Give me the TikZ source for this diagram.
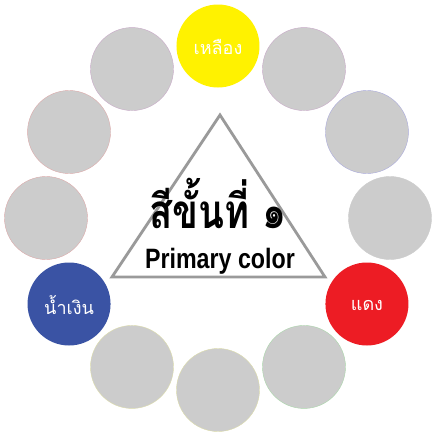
\documentclass[tikz,border=0pt]{standalone}
\usepackage{fontspec}
\newfontfamily\thaifont[Script=Thai]{Loma}
\newfontfamily\latinbold{Liberation Sans}
\definecolor{cgray}{HTML}{CCCCCC}
\definecolor{cyellow}{HTML}{FFF200}
\definecolor{cred}{HTML}{ED1C24}
\definecolor{cblue}{HTML}{3A53A4}
\definecolor{tri}{HTML}{9A9A9A}
\definecolor{opurple}{RGB}{200,170,200}
\definecolor{oblue}{RGB}{170,170,220}
\definecolor{ogreen}{RGB}{170,215,170}
\definecolor{oyellow}{RGB}{220,220,170}
\definecolor{opink}{RGB}{220,170,170}
\tikzset{
  dot/.style={circle, minimum size=83pt, inner sep=0pt, fill=cgray, draw=#1, line width=0.4pt},
  lbl/.style={text=white, font=\thaifont\fontsize{18}{18}\selectfont}
}
\begin{document}
\begin{tikzpicture}[x=1pt,y=1pt]
\useasboundingbox[fill=white] (-218,-219) rectangle (219,218);
% ring of circles
\node[dot=cgray, fill=cyellow, draw=none] (c0) at (90:172) {};
\node[dot=opurple] (c1) at (60:172) {};
\node[dot=oblue] (c2) at (30:172) {};
\node[dot=cgray] (c3) at (0:172) {};
\node[dot=cgray, fill=cred, draw=none] (c4) at (-30:172) {};
\node[dot=ogreen] (c5) at (-60:172) {};
\node[dot=oyellow] (c6) at (-90:172) {};
\node[dot=oyellow] (c7) at (-120:172) {};
\node[dot=cgray, fill=cblue, draw=none] (c8) at (-150:172) {};
\node[dot=opink] (c9) at (180:172) {};
\node[dot=opink] (c10) at (150:172) {};
\node[dot=opurple] (c11) at (120:172) {};
% labels
\node[lbl] (ly) at ([yshift=-1pt]c0.center) {เหลือง};
\node[lbl] (lr) at ([yshift=-1pt]c4.center) {แดง};
\node[lbl] (lb) at ([yshift=-1pt]c8.center) {น้ำเงิน};
% triangle
\coordinate (ta) at (2,103);
\coordinate (tl) at (-106,-59);
\coordinate (tr) at (107,-59);
\draw[tri, line width=2.8pt, line join=miter] (ta) -- (tl) -- (tr) -- cycle;
% title
\node[anchor=base, inner sep=0pt] (title) at (0,-10) {\scalebox{1}[1.25]{\thaifont\bfseries\fontsize{38}{38}\selectfont สีขั้นที่ ๑}};
\node[anchor=base, inner sep=0pt] (sub) at (2,-50) {\scalebox{0.83}[1]{\latinbold\bfseries\fontsize{28}{28}\selectfont Primary color}};
\end{tikzpicture}
\end{document}
